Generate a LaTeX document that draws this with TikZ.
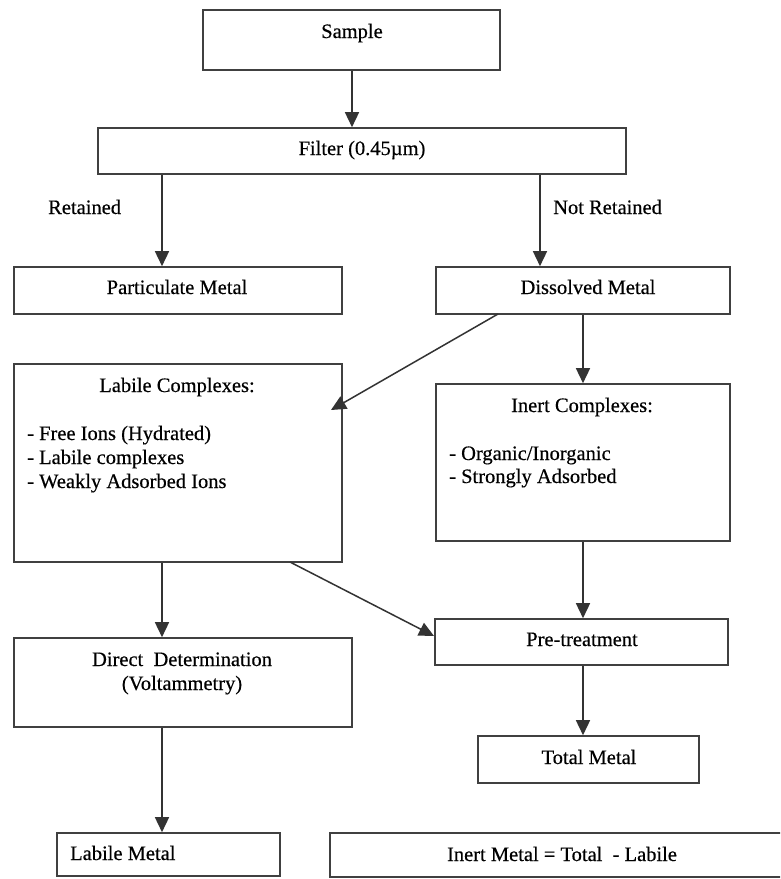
\documentclass[tikz,border=0pt]{standalone}
\usepackage{fontspec}
\setmainfont{Liberation Serif}[FakeBold=0.4]
\usetikzlibrary{arrows.meta}
\tikzset{
  box/.style={draw=black!75, line width=1.6pt, rectangle, inner sep=0pt},
  lbl/.style={inner sep=0pt, anchor=base, font=\fontsize{20.5}{24}\selectfont},
  lblw/.style={inner sep=0pt, anchor=base west, font=\fontsize{20.5}{24}\selectfont},
  arr/.style={draw=black!80, line width=1.5pt, -{Triangle[length=15pt,width=14pt]}},
}
\begin{document}
\begin{tikzpicture}[x=1pt,y=-1pt]
\clip (0,0) rectangle (780,879);
\fill[white] (0,0) rectangle (780,879);
% boxes
\node[box, minimum width=297pt, minimum height=60pt] (sample) at (351.5,40) {};
\node[box, minimum width=528pt, minimum height=46pt] (filter) at (362,151) {};
\node[box, minimum width=328pt, minimum height=47pt] (part) at (178,290.5) {};
\node[box, minimum width=294pt, minimum height=47pt] (diss) at (583,290.5) {};
\node[box, minimum width=328pt, minimum height=198pt] (lab) at (178,463) {};
\node[box, minimum width=294pt, minimum height=157pt] (inert) at (583,462.5) {};
\node[box, minimum width=293pt, minimum height=46pt] (pre) at (581.5,642) {};
\node[box, minimum width=338pt, minimum height=89pt] (direct) at (183,682.5) {};
\node[box, minimum width=221pt, minimum height=47pt] (total) at (588.5,759.5) {};
\node[box, minimum width=223pt, minimum height=43pt] (lmetal) at (168.5,854.5) {};
\node[box, minimum width=480pt, minimum height=44pt] (imetal) at (570,855) {};
% texts
\node[lbl] (tsample) at (352,38) {Sample};
\node[lbl] (tfilter) at (362,155) {Filter (0.45µm)};
\node[lblw] (tret) at (48,214) {Retained};
\node[lblw] (tnret) at (553,214) {Not Retained};
\node[lbl] (tpart) at (177,294) {Particulate Metal};
\node[lbl] (tdiss) at (588,294) {Dissolved Metal};
\node[lbl] (tlab) at (177,392) {Labile Complexes:};
\node[lblw] (tlab1) at (27,440) {- Free Ions (Hydrated)};
\node[lblw] (tlab2) at (27,464) {- Labile complexes};
\node[lblw] (tlab3) at (27,488) {- Weakly Adsorbed Ions};
\node[lbl] (tinert) at (582,412) {Inert Complexes:};
\node[lblw] (tin1) at (449,460) {- Organic/Inorganic};
\node[lblw] (tin2) at (449,483) {- Strongly Adsorbed};
\node[lbl] (tpre) at (582,646) {Pre-treatment};
\node[lbl] (tdir1) at (182,666) {Direct\ \ Determination};
\node[lbl] (tdir2) at (182,690) {(Voltammetry)};
\node[lbl] (ttotal) at (589,764) {Total Metal};
\node[lblw] (tlmetal) at (70,860) {Labile Metal};
\node[lbl] (timetal) at (562,861) {Inert Metal = Total\ \ - Labile};
% columns
\coordinate (ccol) at (352,0);
\coordinate (lcol) at (162,0);
\coordinate (rcol) at (540,0);
\coordinate (icol) at (583,0);
\coordinate (d1) at (498,314);
\coordinate (d2) at (331,410);
\coordinate (p1) at (290,562);
\coordinate (p2) at (434,636);
% connectors
\draw[arr] (sample.south -| ccol) -- (filter.north -| ccol);
\draw[arr] (filter.south -| lcol) -- (part.north -| lcol);
\draw[arr] (filter.south -| rcol) -- (diss.north -| rcol);
\draw[arr] (d1) -- (d2);
\draw[arr] (diss.south -| icol) -- (inert.north -| icol);
\draw[arr] (lab.south -| lcol) -- (direct.north -| lcol);
\draw[arr] (p1) -- (p2);
\draw[arr] (inert.south -| icol) -- (pre.north -| icol);
\draw[arr] (pre.south -| icol) -- (total.north -| icol);
\draw[arr] (direct.south -| lcol) -- (lmetal.north -| lcol);
\end{tikzpicture}
\end{document}
